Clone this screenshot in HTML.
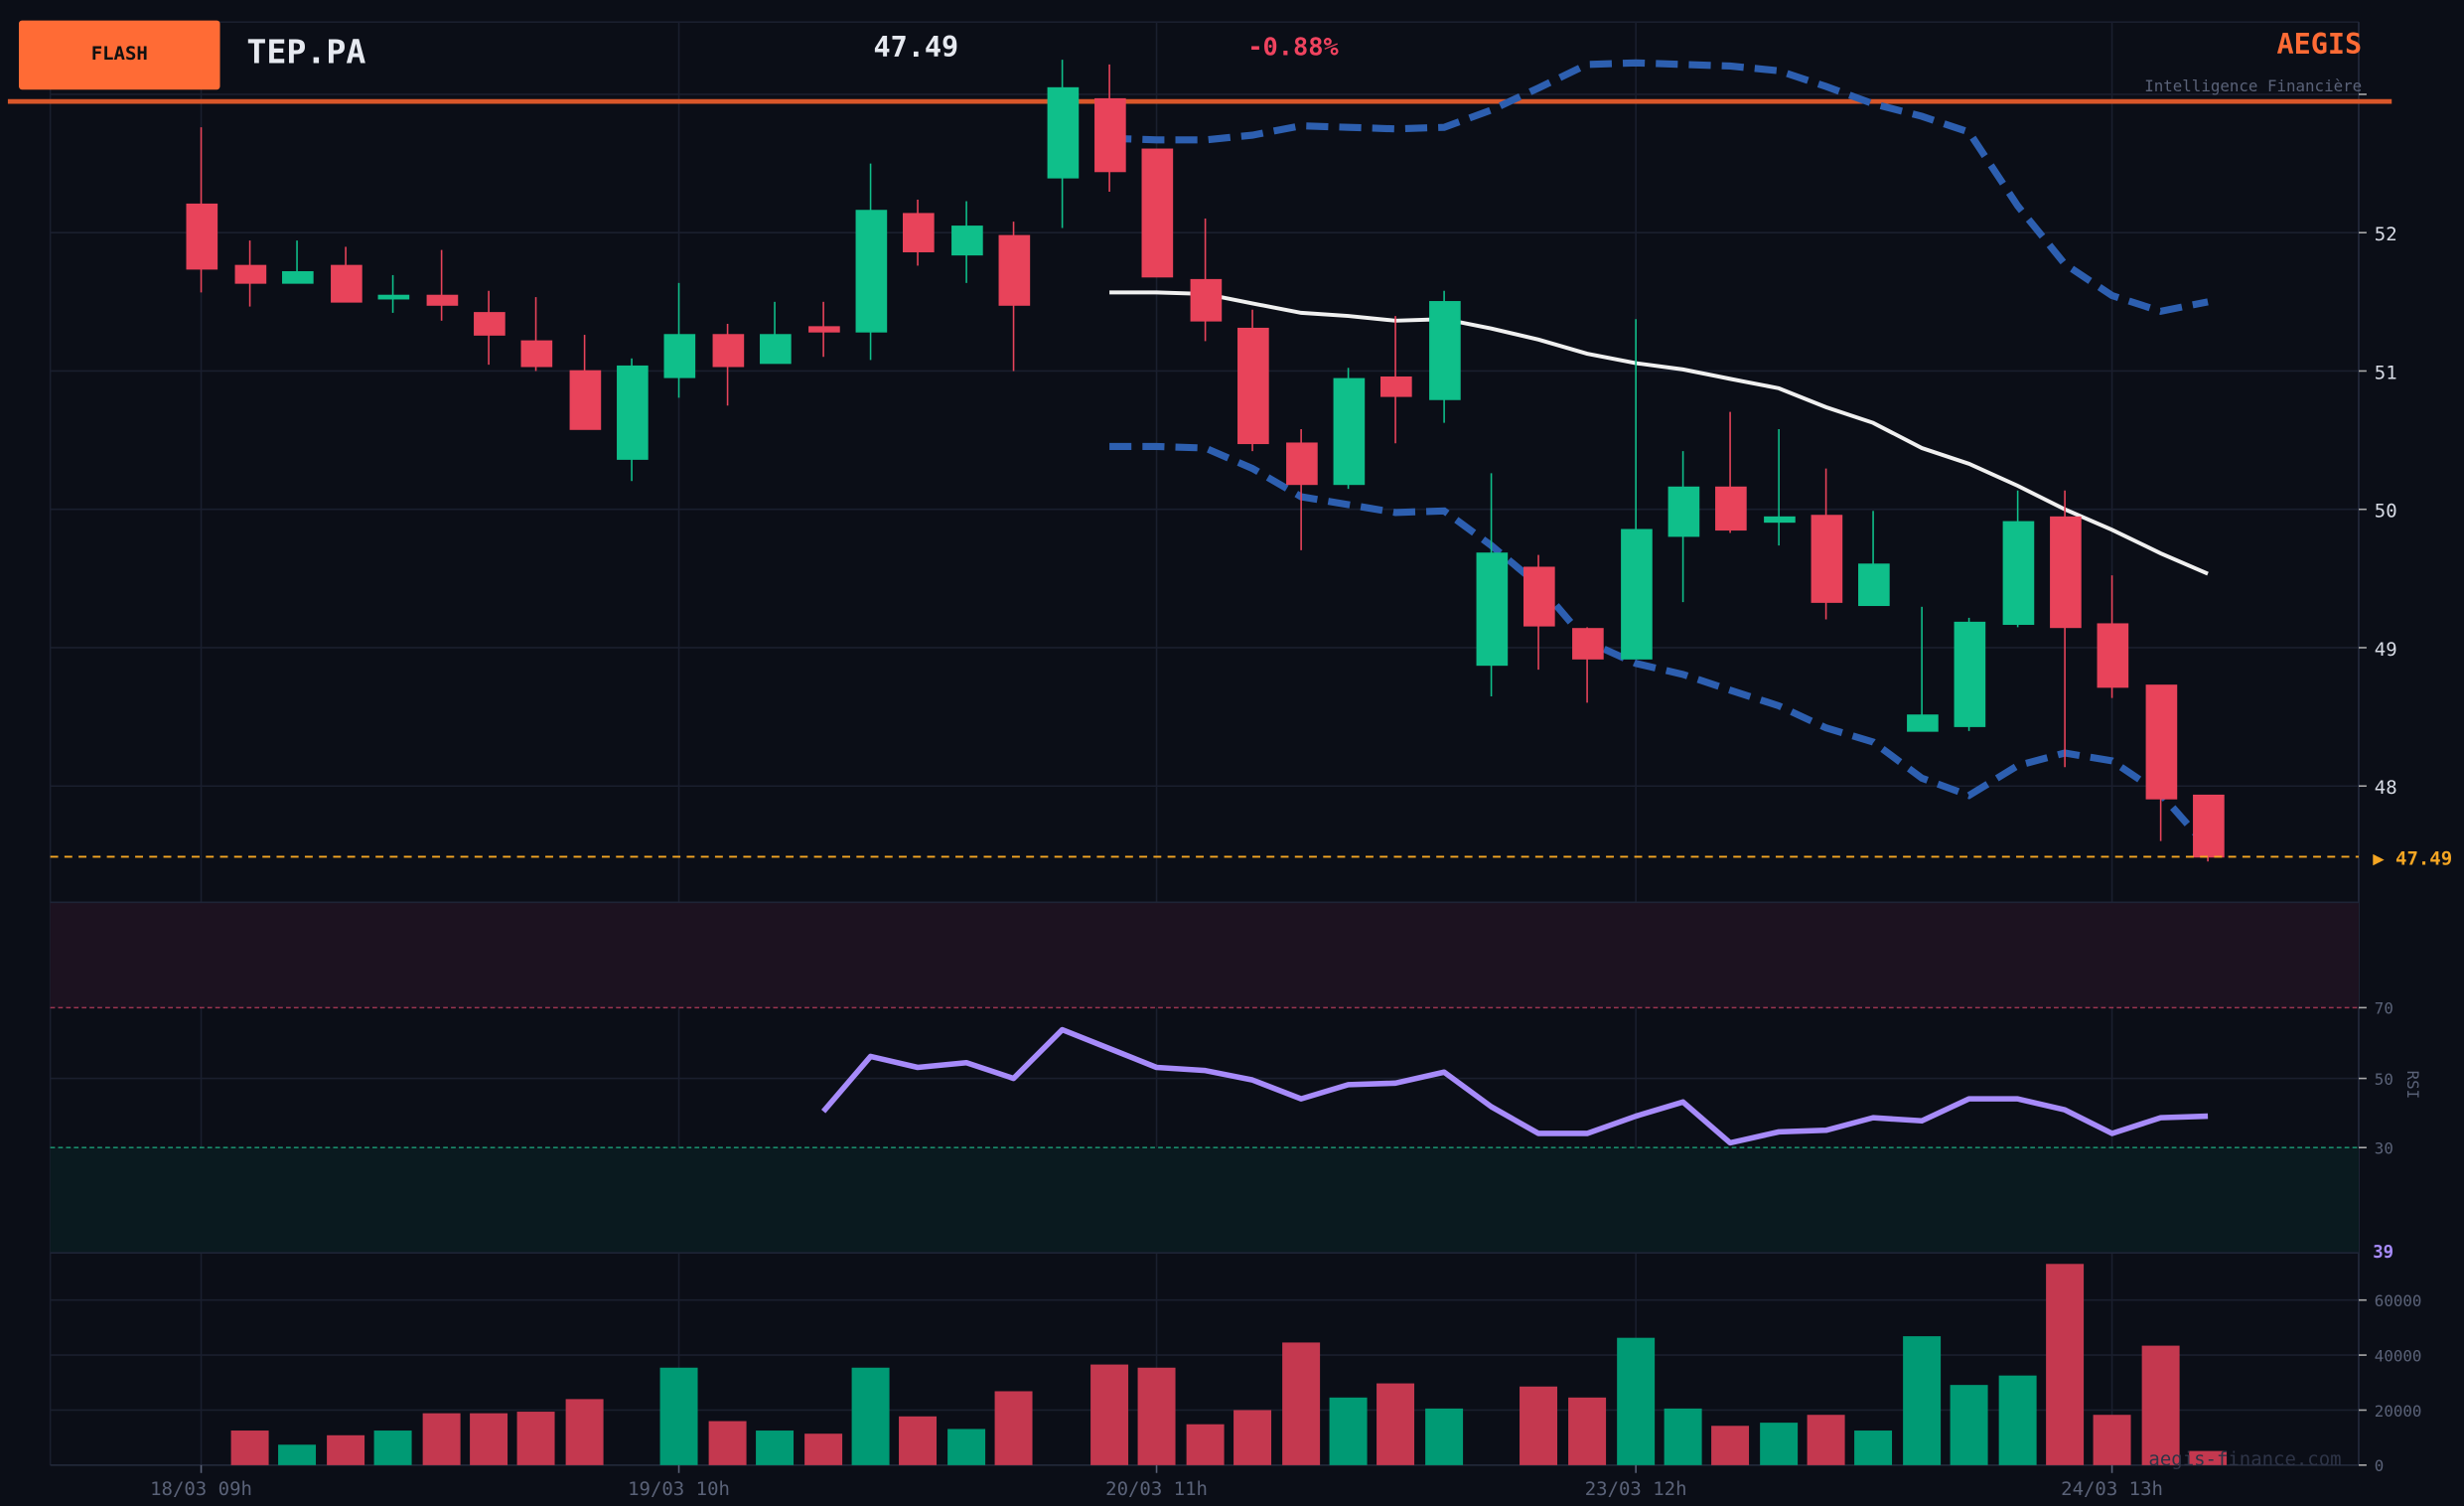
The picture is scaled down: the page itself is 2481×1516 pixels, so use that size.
<!DOCTYPE html>
<html><head><meta charset="utf-8"><style>
html,body{margin:0;padding:0;background:#0b0e17;}
svg{display:block;}
text{font-family:"DejaVu Sans Mono","Liberation Mono",monospace;}
</style></head><body>
<svg width="2481" height="1516" viewBox="0 0 1568 958" preserveAspectRatio="none" xmlns="http://www.w3.org/2000/svg">
<rect width="1568" height="958" fill="#0b0e17"/>
<!-- grid -->
<g stroke="#1a1f2e" stroke-width="1">
<line x1="32" y1="14" x2="1501" y2="14"/>
<line x1="32" y1="60" x2="1501" y2="60"/>
<line x1="32" y1="148" x2="1501" y2="148"/>
<line x1="32" y1="236" x2="1501" y2="236"/>
<line x1="32" y1="324" x2="1501" y2="324"/>
<line x1="32" y1="412" x2="1501" y2="412"/>
<line x1="32" y1="500" x2="1501" y2="500"/>
<line x1="32" y1="686" x2="1501" y2="686"/>
<line x1="32" y1="827" x2="1501" y2="827"/>
<line x1="32" y1="862" x2="1501" y2="862"/>
<line x1="32" y1="897" x2="1501" y2="897"/>
<line x1="32" y1="14" x2="32" y2="932"/>
<line x1="128" y1="14" x2="128" y2="932"/>
<line x1="432" y1="14" x2="432" y2="932"/>
<line x1="736" y1="14" x2="736" y2="932"/>
<line x1="1041" y1="14" x2="1041" y2="932"/>
<line x1="1344" y1="14" x2="1344" y2="932"/>
</g>
<line x1="1501" y1="14" x2="1501" y2="932" stroke="#252b3d"/>
<line x1="32" y1="932" x2="1501" y2="932" stroke="#252b3d"/>
<!-- RSI zones -->
<rect x="32" y="574" width="1469" height="67" fill="#1c1220"/>
<rect x="32" y="730" width="1469" height="67" fill="#0a1a1f"/>
<line x1="32" y1="574" x2="1501" y2="574" stroke="#1e2436"/>
<line x1="32" y1="797" x2="1501" y2="797" stroke="#1e2436"/>
<line x1="32" y1="641" x2="1501" y2="641" stroke="#9b3550" stroke-dasharray="3,2"/>
<line x1="32" y1="730" x2="1501" y2="730" stroke="#1a8a6a" stroke-dasharray="3,2"/>
<!-- header -->
<rect x="12" y="13" width="128" height="44" rx="2" fill="#ff6b35"/>
<text x="76" y="38" font-size="12" font-weight="bold" fill="#111" text-anchor="middle">FLASH</text>
<text x="157" y="40" font-size="21" font-weight="bold" fill="#e6e9f0">TEP.PA</text>
<text x="610" y="36" font-size="18" font-weight="bold" fill="#e6e9f0" text-anchor="end">47.49</text>
<text x="794" y="35" font-size="16" font-weight="bold" fill="#f0435f">-0.88%</text>
<text x="1503" y="34" font-size="18" font-weight="bold" fill="#ff6b35" text-anchor="end">AEGIS</text>
<text x="1503" y="58" font-size="10" fill="#5a6278" text-anchor="end">Intelligence Financière</text>
<line x1="5" y1="64.5" x2="1522" y2="64.5" stroke="#d9572a" stroke-width="3"/>
<!-- bollinger -->
<g fill="none" stroke="#2d5fb0" stroke-width="4.5" stroke-dasharray="14,7">
<polyline points="706,88 736,89 767,89 797,86 828,80 858,81 888,82 919,81 949,70 979,56 1010,41 1041,40 1071,41 1101,42 1132,45 1162,55 1192,66 1223,74 1253,84 1284,131 1314,168 1344,188 1375,198 1405,192"/>
<polyline points="706,284 736,284 767,285 797,298 828,316 858,321 888,326 919,325 949,347 979,372 1010,408 1041,422 1071,429 1101,439 1132,449 1162,463 1192,472 1223,495 1253,506 1284,487 1314,479 1344,484 1375,505 1405,539"/>
</g>
<polyline fill="none" stroke="#f0f0f0" stroke-width="2.5" points="706,186 736,186 767,187 797,193 828,199 858,201 888,204 919,203 949,209 979,216 1010,225 1041,231 1071,235 1101,241 1132,247 1162,259 1192,269 1223,285 1253,295 1284,309 1314,324 1344,337 1375,352 1405,365"/>
<!-- candles -->
<g stroke-width="1">
<g fill="#e8435a" stroke="#e8435a">
<line x1="128" y1="81" x2="128" y2="186"/><rect x="119" y="130" width="19" height="41"/>
<line x1="159" y1="153" x2="159" y2="195"/><rect x="150" y="169" width="19" height="11"/>
<line x1="220" y1="157" x2="220" y2="192"/><rect x="211" y="169" width="19" height="23"/>
<line x1="281" y1="159" x2="281" y2="204"/><rect x="272" y="188" width="19" height="6"/>
<line x1="311" y1="185" x2="311" y2="232"/><rect x="302" y="199" width="19" height="14"/>
<line x1="341" y1="189" x2="341" y2="236"/><rect x="332" y="217" width="19" height="16"/>
<line x1="372" y1="213" x2="372" y2="273"/><rect x="363" y="236" width="19" height="37"/>
<line x1="463" y1="206" x2="463" y2="258"/><rect x="454" y="213" width="19" height="20"/>
<line x1="524" y1="192" x2="524" y2="227"/><rect x="515" y="208" width="19" height="3"/>
<line x1="584" y1="127" x2="584" y2="169"/><rect x="575" y="136" width="19" height="24"/>
<line x1="645" y1="141" x2="645" y2="236"/><rect x="636" y="150" width="19" height="44"/>
<line x1="706" y1="41" x2="706" y2="122"/><rect x="697" y="63" width="19" height="46"/>
<line x1="736" y1="95" x2="736" y2="176"/><rect x="727" y="95" width="19" height="81"/>
<line x1="767" y1="139" x2="767" y2="217"/><rect x="758" y="178" width="19" height="26"/>
<line x1="797" y1="197" x2="797" y2="287"/><rect x="788" y="209" width="19" height="73"/>
<line x1="828" y1="273" x2="828" y2="350"/><rect x="819" y="282" width="19" height="26"/>
<line x1="888" y1="201" x2="888" y2="282"/><rect x="879" y="240" width="19" height="12"/>
<line x1="979" y1="353" x2="979" y2="426"/><rect x="970" y="361" width="19" height="37"/>
<line x1="1010" y1="399" x2="1010" y2="447"/><rect x="1001" y="400" width="19" height="19"/>
<line x1="1101" y1="262" x2="1101" y2="339"/><rect x="1092" y="310" width="19" height="27"/>
<line x1="1162" y1="298" x2="1162" y2="394"/><rect x="1153" y="328" width="19" height="55"/>
<line x1="1314" y1="312" x2="1314" y2="488"/><rect x="1305" y="329" width="19" height="70"/>
<line x1="1344" y1="366" x2="1344" y2="444"/><rect x="1335" y="397" width="19" height="40"/>
<line x1="1375" y1="436" x2="1375" y2="535"/><rect x="1366" y="436" width="19" height="72"/>
<line x1="1405" y1="506" x2="1405" y2="548"/><rect x="1396" y="506" width="19" height="39"/>
</g>
<g fill="#0fbf8a" stroke="#0fbf8a">
<line x1="189" y1="153" x2="189" y2="180"/><rect x="180" y="173" width="19" height="7"/>
<line x1="250" y1="175" x2="250" y2="199"/><rect x="241" y="188" width="19" height="2"/>
<line x1="402" y1="228" x2="402" y2="306"/><rect x="393" y="233" width="19" height="59"/>
<line x1="432" y1="180" x2="432" y2="253"/><rect x="423" y="213" width="19" height="27"/>
<line x1="493" y1="192" x2="493" y2="231"/><rect x="484" y="213" width="19" height="18"/>
<line x1="554" y1="104" x2="554" y2="229"/><rect x="545" y="134" width="19" height="77"/>
<line x1="615" y1="128" x2="615" y2="180"/><rect x="606" y="144" width="19" height="18"/>
<line x1="676" y1="38" x2="676" y2="145"/><rect x="667" y="56" width="19" height="57"/>
<line x1="858" y1="234" x2="858" y2="311"/><rect x="849" y="241" width="19" height="67"/>
<line x1="919" y1="185" x2="919" y2="269"/><rect x="910" y="192" width="19" height="62"/>
<line x1="949" y1="301" x2="949" y2="443"/><rect x="940" y="352" width="19" height="71"/>
<line x1="1041" y1="203" x2="1041" y2="419"/><rect x="1032" y="337" width="19" height="82"/>
<line x1="1071" y1="287" x2="1071" y2="383"/><rect x="1062" y="310" width="19" height="31"/>
<line x1="1132" y1="273" x2="1132" y2="347"/><rect x="1123" y="329" width="19" height="3"/>
<line x1="1192" y1="325" x2="1192" y2="385"/><rect x="1183" y="359" width="19" height="26"/>
<line x1="1223" y1="386" x2="1223" y2="465"/><rect x="1214" y="455" width="19" height="10"/>
<line x1="1253" y1="393" x2="1253" y2="465"/><rect x="1244" y="396" width="19" height="66"/>
<line x1="1284" y1="312" x2="1284" y2="399"/><rect x="1275" y="332" width="19" height="65"/>
</g>
</g>
<!-- last price line -->
<line x1="32" y1="545" x2="1501" y2="545" stroke="#f5a623" stroke-width="1.2" stroke-dasharray="5,4"/>
<text x="1510" y="550" font-size="12" font-weight="bold" fill="#f5a623">▶ 47.49</text>
<!-- price labels -->
<g font-size="12" fill="#d8dce6">
<text x="1511" y="153">52</text><text x="1511" y="241">51</text><text x="1511" y="329">50</text><text x="1511" y="417">49</text><text x="1511" y="505">48</text>
</g>
<g stroke="#aaa"><line x1="1501" y1="60" x2="1506" y2="60"/><line x1="1501" y1="148" x2="1506" y2="148"/><line x1="1501" y1="236" x2="1506" y2="236"/><line x1="1501" y1="324" x2="1506" y2="324"/><line x1="1501" y1="412" x2="1506" y2="412"/><line x1="1501" y1="500" x2="1506" y2="500"/>
<line x1="1501" y1="641" x2="1506" y2="641"/><line x1="1501" y1="686" x2="1506" y2="686"/><line x1="1501" y1="730" x2="1506" y2="730"/>
<line x1="1501" y1="827" x2="1506" y2="827"/><line x1="1501" y1="862" x2="1506" y2="862"/><line x1="1501" y1="897" x2="1506" y2="897"/><line x1="1501" y1="932" x2="1506" y2="932"/></g>
<!-- RSI -->
<polyline fill="none" stroke="#a78bfa" stroke-width="3.5" stroke-linejoin="round" points="524,707 554,672 584,679 615,676 645,686 676,655 706,667 736,679 767,681 797,687 828,699 858,690 888,689 919,682 949,704 979,721 1010,721 1041,710 1071,701 1101,727 1132,720 1162,719 1192,711 1223,713 1253,699 1284,699 1314,706 1344,721 1375,711 1405,710"/>
<g font-size="10" fill="#5a6278">
<text x="1511" y="645">70</text><text x="1511" y="690">50</text><text x="1511" y="734">30</text>
<text x="1536" y="686" transform="rotate(90 1532 686)" text-anchor="middle">RSI</text>
<text x="1511" y="831">60000</text><text x="1511" y="866">40000</text><text x="1511" y="901">20000</text><text x="1511" y="936">0</text>
</g>
<text x="1510" y="800" font-size="11" font-weight="bold" fill="#a78bfa">39</text>
<!-- volume -->
<g fill="#c4384f">
<rect x="147" y="910" width="24" height="22"/><rect x="208" y="913" width="24" height="19"/><rect x="269" y="899" width="24" height="33"/><rect x="299" y="899" width="24" height="33"/><rect x="329" y="898" width="24" height="34"/><rect x="360" y="890" width="24" height="42"/>
<rect x="451" y="904" width="24" height="28"/><rect x="512" y="912" width="24" height="20"/><rect x="572" y="901" width="24" height="31"/><rect x="633" y="885" width="24" height="47"/>
<rect x="694" y="868" width="24" height="64"/><rect x="724" y="870" width="24" height="62"/><rect x="755" y="906" width="24" height="26"/><rect x="785" y="897" width="24" height="35"/><rect x="816" y="854" width="24" height="78"/><rect x="876" y="880" width="24" height="52"/>
<rect x="967" y="882" width="24" height="50"/><rect x="998" y="889" width="24" height="43"/><rect x="1089" y="907" width="24" height="25"/><rect x="1150" y="900" width="24" height="32"/>
<rect x="1302" y="804" width="24" height="128"/><rect x="1332" y="900" width="24" height="32"/><rect x="1363" y="856" width="24" height="76"/><rect x="1393" y="923" width="24" height="9"/>
</g>
<g fill="#009a74">
<rect x="177" y="919" width="24" height="13"/><rect x="238" y="910" width="24" height="22"/><rect x="420" y="870" width="24" height="62"/><rect x="481" y="910" width="24" height="22"/><rect x="542" y="870" width="24" height="62"/><rect x="603" y="909" width="24" height="23"/>
<rect x="846" y="889" width="24" height="43"/><rect x="907" y="896" width="24" height="36"/><rect x="1029" y="851" width="24" height="81"/><rect x="1059" y="896" width="24" height="36"/><rect x="1120" y="905" width="24" height="27"/><rect x="1180" y="910" width="24" height="22"/><rect x="1211" y="850" width="24" height="82"/><rect x="1241" y="881" width="24" height="51"/><rect x="1272" y="875" width="24" height="57"/>
</g>
<text x="1490" y="932" font-size="12" fill="#2e3447" text-anchor="end">aegis-finance.com</text>
<!-- x labels -->
<g font-size="12" fill="#5a6278" text-anchor="middle">
<text x="128" y="951">18/03 09h</text><text x="432" y="951">19/03 10h</text><text x="736" y="951">20/03 11h</text><text x="1041" y="951">23/03 12h</text><text x="1344" y="951">24/03 13h</text>
</g>
<g stroke="#5a6278"><line x1="128" y1="932" x2="128" y2="937"/><line x1="432" y1="932" x2="432" y2="937"/><line x1="736" y1="932" x2="736" y2="937"/><line x1="1041" y1="932" x2="1041" y2="937"/><line x1="1344" y1="932" x2="1344" y2="937"/></g>
</svg>
</body></html>
